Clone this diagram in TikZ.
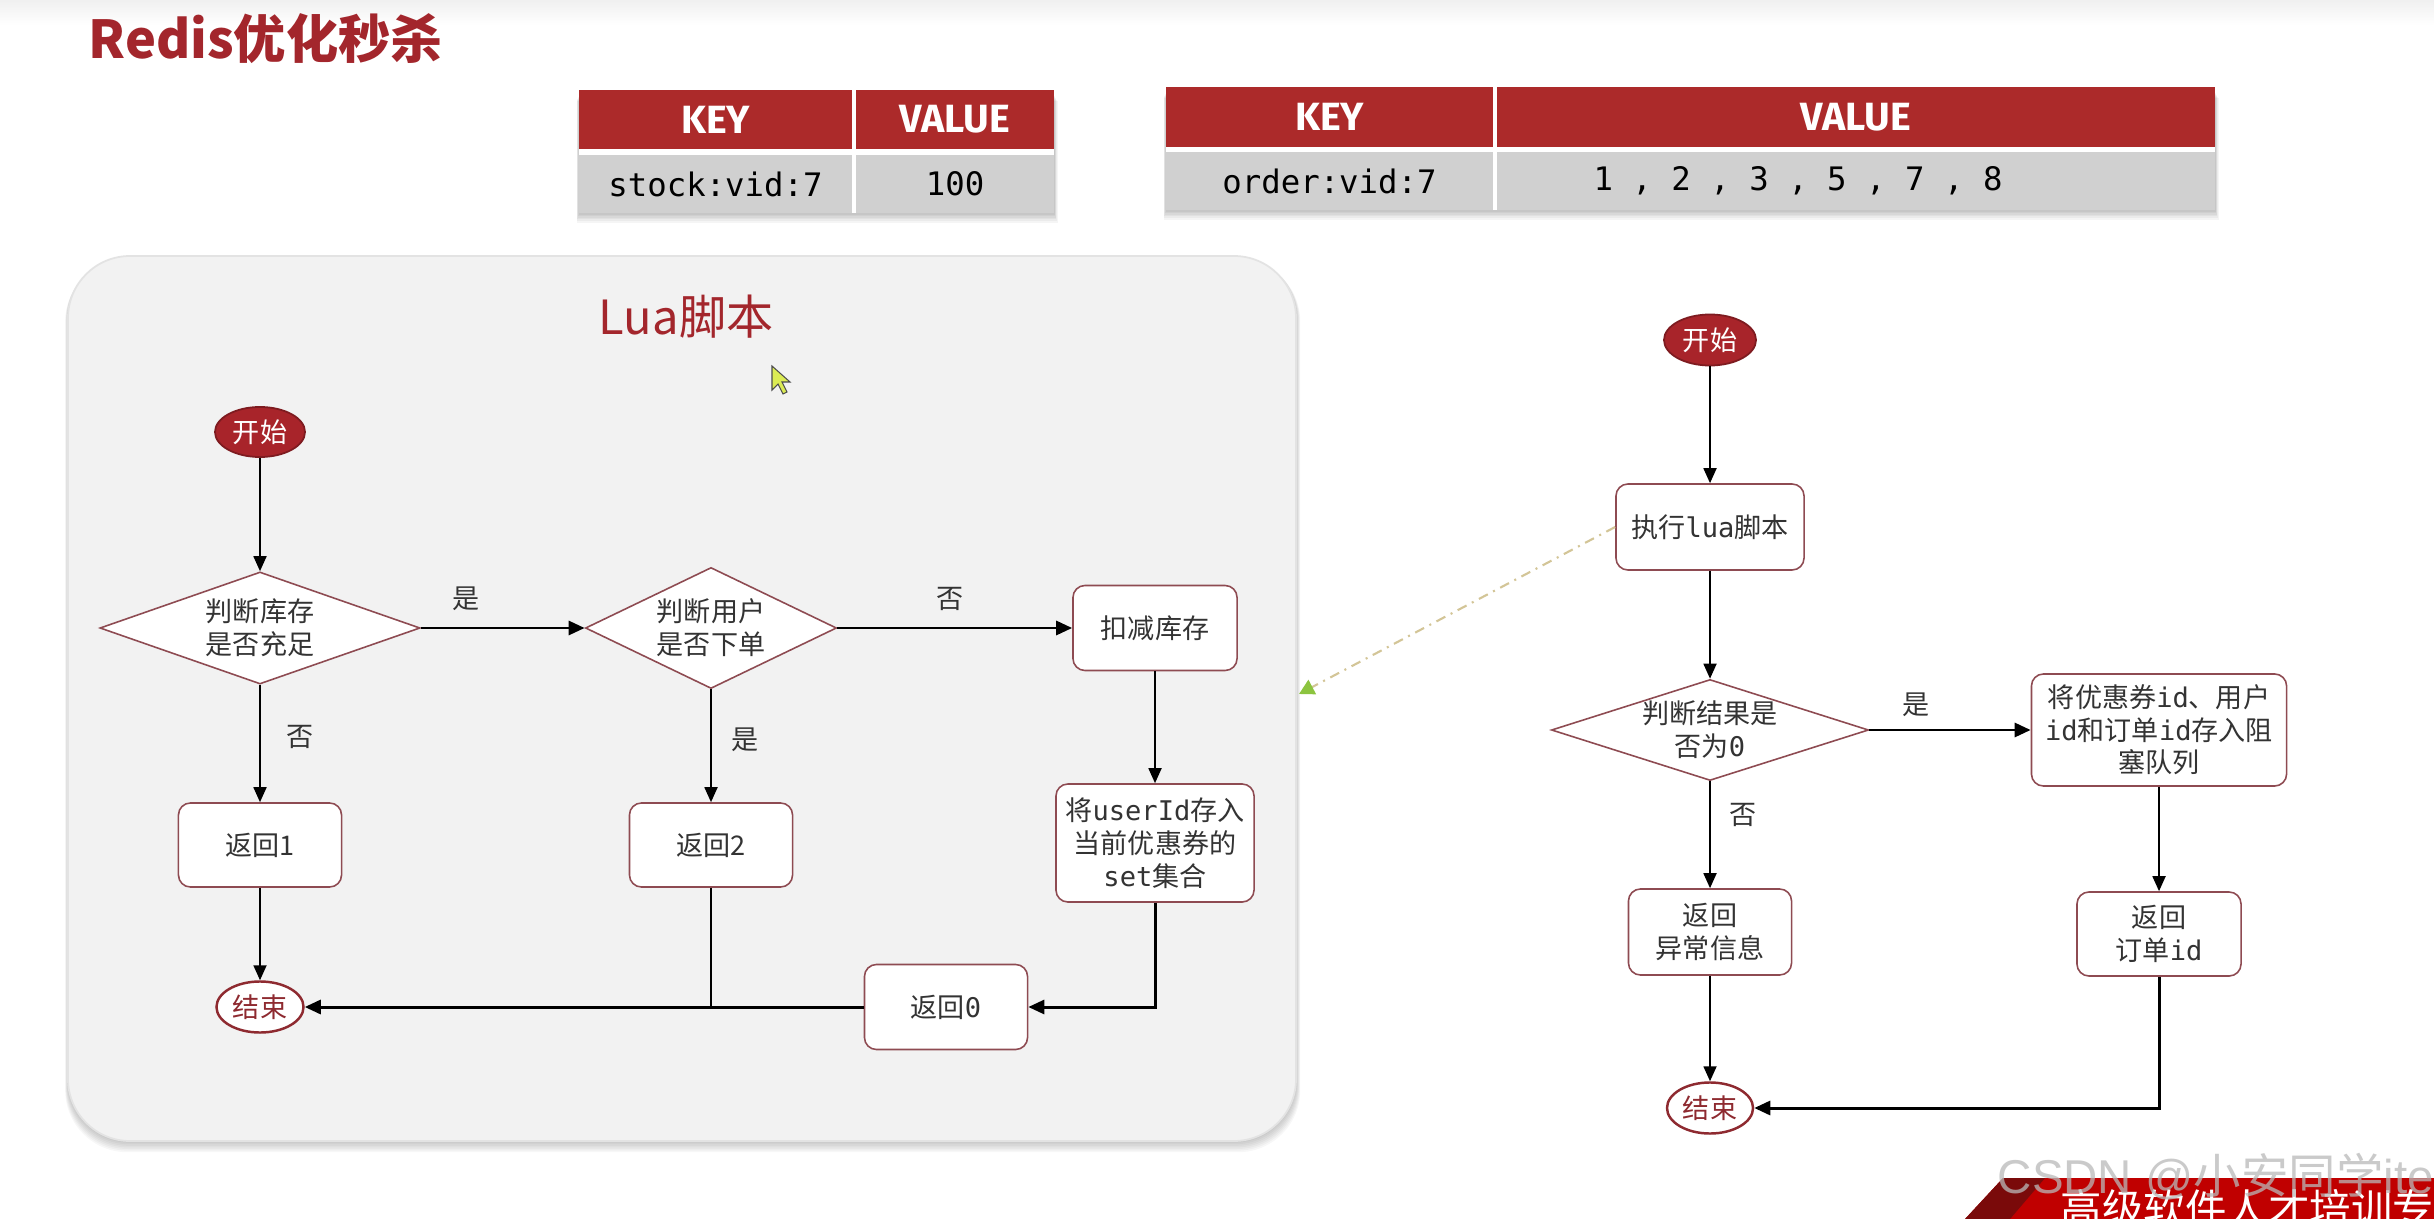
\documentclass[tikz,border=0pt]{standalone}
\usepackage{fontspec}
\setmainfont{Noto Sans CJK SC}
\setmonofont{DejaVu Sans Mono}
\newfontfamily\hdrfont{Fira Sans}
\newfontfamily\wmfont{Liberation Sans}
\usetikzlibrary{shapes.geometric,arrows.meta,calc}
\definecolor{titlered}{HTML}{A3262C}
\definecolor{hdrred}{HTML}{AC2A2A}
\definecolor{rowgray}{HTML}{D0D0D0}
\definecolor{startred}{HTML}{A8242A}
\definecolor{bord}{HTML}{8E4B52}
\definecolor{endred}{HTML}{8E2A30}
\definecolor{panelgray}{HTML}{F2F2F2}
\definecolor{txt}{HTML}{333333}
\definecolor{dashtan}{HTML}{D3C597}
\definecolor{tipgreen}{HTML}{8CC43F}
\definecolor{bannerred}{HTML}{C00000}
\definecolor{bannerdark}{HTML}{7A0A0A}
\tikzset{
  base/.style={font=\fontsize{7.7pt}{9.3pt}\selectfont, text=txt, align=center, inner sep=0pt},
  proc/.style={base, rectangle, rounded corners=0.12cm, draw=bord, line width=0.45pt, fill=white},
  decide/.style={base, diamond, draw=bord, line width=0.45pt, fill=white},
  startnode/.style={base, ellipse, fill=startred, draw=startred!75!black, line width=0.5pt, text=white, minimum width=0.9cm, minimum height=0.5cm},
  endnode/.style={base, ellipse, fill=white, draw=endred, line width=0.7pt, text=endred, minimum width=0.87cm, minimum height=0.51cm},
  flow/.style={line width=0.5pt, -{Triangle[length=0.15cm,width=0.13cm]}},
  flowthick/.style={line width=0.85pt, -{Triangle[length=0.16cm,width=0.14cm]}},
  lab/.style={base},
  hdr/.style={rectangle, fill=hdrred, text=white, font=\hdrfont\bfseries\fontsize{11.2pt}{12pt}\selectfont, inner sep=0pt},
  cell/.style={rectangle, fill=rowgray, text=black, font=\ttfamily\fontsize{9.2pt}{10pt}\selectfont, inner sep=0pt},
  luadash/.style={draw=dashtan, line width=0.6pt, dash pattern=on 0.1cm off 0.06cm on 0.02cm off 0.06cm, -{Triangle[length=0.15cm,width=0.16cm,fill=tipgreen,color=tipgreen]}}
}
\begin{document}
\begin{tikzpicture}[x=0.01cm,y=-0.01cm]
\useasboundingbox (0,0) rectangle (2434,1219);
\fill[white] (0,0) rectangle (2434,1219);
\shade[top color=gray!12, bottom color=white] (0,0) rectangle (2434,25);

% title
\node[anchor=west, text=titlered, font=\bfseries\fontsize{14.85pt}{16pt}\selectfont, inner sep=0pt] (title) at (88,39) {Redis优化秒杀};

% table 1
\foreach \i in {1,...,6}
  \fill[black, opacity=0.04] ({579-0.4*\i},{95+\i}) rectangle ({1054+0.6*\i},{213+1.6*\i});
\fill[white] (579,90) rectangle (1054,213);
\node[hdr, minimum width=2.73cm, minimum height=0.59cm] (t1kh) at (715.5,119.5) {KEY};
\node[hdr, minimum width=1.98cm, minimum height=0.59cm] (t1vh) at (955,119.5) {VALUE};
\node[cell, minimum width=2.73cm, minimum height=0.58cm] (t1k) at (715.5,184) {stock:vid:7};
\node[cell, minimum width=1.98cm, minimum height=0.58cm] (t1v) at (955,184) {100};

% table 2
\foreach \i in {1,...,6}
  \fill[black, opacity=0.04] ({1166-0.4*\i},{92+\i}) rectangle ({2215+0.6*\i},{210+1.6*\i});
\fill[white] (1166,87) rectangle (2215,210);
\node[hdr, minimum width=3.27cm, minimum height=0.60cm] (t2kh) at (1329.5,117) {KEY};
\node[hdr, minimum width=7.18cm, minimum height=0.60cm] (t2vh) at (1856,117) {VALUE};
\node[cell, minimum width=3.27cm, minimum height=0.58cm] (t2k) at (1329.5,181) {order:vid:7};
\node[cell, minimum width=7.18cm, minimum height=0.58cm] (t2v) at (1856,181) {};
\node[cell, fill=none] (t2vt) at (1798,181) {1 , 2 , 3 , 5 , 7 , 8};

% Lua panel
\foreach \i in {1,...,7}
  \fill[black, opacity=0.03, rounded corners=0.62cm] ({68-0.4*\i},{256+0.5*\i}) rectangle ({1296+0.6*\i},{1141+1.6*\i});
\fill[panelgray, rounded corners=0.62cm] (68,256) rectangle (1296,1141);
\draw[gray!22, line width=0.5pt, rounded corners=0.62cm] (68,256) rectangle (1296,1141);
\node[text=titlered, font=\fontsize{13.4pt}{14pt}\selectfont, inner sep=0pt] (luatitle) at (686,317) {Lua脚本};

% mouse pointer
\filldraw[fill=yellow!80!green!70, draw=black!70, line width=0.3pt] (772,366) -- (772,390) -- (778,384) -- (783,394) -- (787,392) -- (782,382) -- (790,382) -- cycle;

% left flowchart
\node[startnode] (s1) at (260,432) {开始};
\node[decide, shape aspect=2.86, minimum width=3.2cm, minimum height=1.12cm] (d1) at (260,628) {判断库存\\是否充足};
\node[decide, shape aspect=2.07, minimum width=2.51cm, minimum height=1.21cm] (d2) at (711,628) {判断用户\\是否下单};
\node[proc, minimum width=1.64cm, minimum height=0.85cm] (dec) at (1155,628) {扣减库存};
\node[proc, minimum width=1.63cm, minimum height=0.84cm] (r1) at (260,845) {返回1};
\node[proc, minimum width=1.63cm, minimum height=0.84cm] (r2) at (711,845) {返回2};
\node[proc, minimum width=1.98cm, minimum height=1.18cm] (setb) at (1155,843) {将\texttt{userId}存入\\当前优惠券的\\\texttt{set}集合};
\node[proc, minimum width=1.63cm, minimum height=0.85cm] (r0) at (946,1007) {返回\texttt{0}};
\node[endnode] (e1) at (260,1007) {结束};

\draw[flow] (s1) -- (d1);
\draw[flowthick] (d1) -- (d2);
\draw[flowthick] (d2) -- (dec);
\draw[flow] (d1) -- (r1);
\draw[flow] (d2) -- (r2);
\draw[flow] (dec) -- (setb);
\draw[flowthick] (setb.south) |- (r0.east);
\draw[flowthick] (r0.west) -- (e1.east);
\draw[line width=0.5pt] (r2.south) -- (r2.south |- e1.east);
\draw[flow] (r1) -- (e1);

\node[lab] (l1) at (466,599) {是};
\node[lab] (l2) at (950,599) {否};
\node[lab] (l3) at (300,737) {否};
\node[lab] (l4) at (745,740) {是};

% right flowchart
\node[startnode, minimum width=0.92cm, minimum height=0.51cm] (s2) at (1710,340) {开始};
\node[proc, minimum width=1.88cm, minimum height=0.86cm] (lua) at (1710,527) {执行\texttt{lua}脚本};
\node[decide, shape aspect=3.14, minimum width=3.17cm, minimum height=1.01cm] (d3) at (1710,730) {判断结果是\\否为\texttt{0}};
\node[proc, minimum width=2.55cm, minimum height=1.12cm] (q) at (2159,730) {将优惠券\texttt{id}、用户\\\texttt{id}和订单\texttt{id}存入阻\\塞队列};
\node[proc, minimum width=1.63cm, minimum height=0.86cm] (err) at (1710,932) {返回\\异常信息};
\node[proc, minimum width=1.64cm, minimum height=0.84cm] (oid) at (2159,934) {返回\\订单\texttt{id}};
\node[endnode, minimum width=0.86cm] (e2) at (1710,1108) {结束};

\draw[flow] (s2) -- (lua);
\draw[flow] (lua) -- (d3);
\draw[flowthick] (d3) -- (q);
\draw[flow] (d3) -- (err);
\draw[flow] (q) -- (oid);
\draw[flow] (err) -- (e2);
\draw[flowthick] (oid.south) |- (e2.east);

\node[lab] (l5) at (1916,705) {是};
\node[lab] (l6) at (1743,815) {否};

% link from lua box to panel
\coordinate (panelpt) at (1299,694);
\draw[luadash] (lua.west) -- (panelpt);

% banner and watermark
\begin{scope}
\clip (0,0) rectangle (2434,1219);
\fill[bannerred] (2003,1178) -- (2434,1178) -- (2434,1219) -- (1965,1219) -- cycle;
\fill[bannerdark] (2003,1178) -- (2045,1178) -- (2010,1219) -- (1965,1219) -- cycle;
\node[anchor=north west, text=white, font=\fontsize{11.8pt}{12pt}\selectfont, inner sep=0pt] (bannertxt) at (2060,1189) {高级软件人才培训专};
\node[anchor=west, text=gray!55, opacity=0.75, font=\fontsize{13.5pt}{14pt}\selectfont, inner sep=0pt] (wm) at (1997,1177) {{\wmfont CSDN @}小安同学{\wmfont iter}};
\end{scope}
\end{tikzpicture}
\end{document}
